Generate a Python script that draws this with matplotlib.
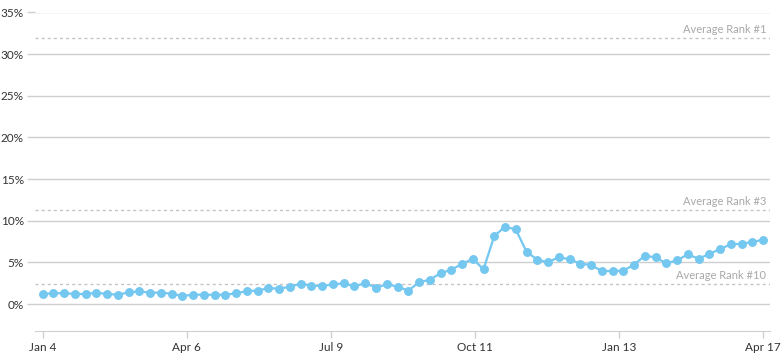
import numpy as np
import matplotlib.pyplot as plt

plt.rcParams['font.family'] = ['Lato', 'DejaVu Sans']

# weekly share (%), Jan 4 -> Apr 17
share = [1.2, 1.28, 1.32, 1.2, 1.2, 1.36, 1.2, 1.12, 1.4, 1.52,
         1.36, 1.36, 1.24, 0.96, 1.12, 1.12, 1.1, 1.12, 1.28, 1.56,
         1.6, 1.92, 1.84, 2.08, 2.44, 2.2, 2.16, 2.36, 2.48, 2.12,
         2.52, 1.96, 2.36, 2.1, 1.6, 2.6, 2.92, 3.68, 4.12, 4.8,
         5.44, 4.16, 8.16, 9.28, 8.96, 6.28, 5.32, 5.0, 5.64, 5.36,
         4.86, 4.68, 3.96, 3.96, 4.0, 4.72, 5.8, 5.6, 4.88, 5.24,
         5.96, 5.44, 6.0, 6.6, 7.16, 7.24, 7.44, 7.72]
tick_labels = ['Jan 4', 'Apr 6', 'Jul 9', 'Oct 11', 'Jan 13', 'Apr 17']
ref_names = ['Average Rank #1', 'Average Rank #3', 'Average Rank #10']
ref_values = [31.9, 11.3, 2.4]
y_ticks = [0, 5, 10, 15, 20, 25, 30, 35]

x = np.arange(len(share))

fig = plt.figure(figsize=(7.83, 3.58), dpi=100)
ax = fig.add_axes([35 / 783, 27 / 358, 735 / 783, 318.5 / 358])

# reference lines with labels
for name, val in zip(ref_names, ref_values):
    ax.axhline(val, color='#c4c4c4', lw=1, ls=(0, (2.2, 2.2)), zorder=1)
    ax.text(len(share) - 1 + 0.3, val + 0.35, name, ha='right', va='bottom',
            fontsize=8, color='#a8a8a8')

ax.plot(x, share, color='#74c7ef', lw=1.6, marker='o', markersize=5.4, zorder=3)

ax.set_xlim(-0.72, 67.65)
ax.set_ylim(-3.24, 35)

ax.set_yticks(y_ticks)
ax.set_yticklabels([f'{v}%' for v in y_ticks])
ax.set_xticks(np.linspace(0, len(share) - 1, len(tick_labels)))
ax.set_xticklabels(tick_labels)

ax.grid(axis='y', color='#cdd0d0', lw=1)
ax.set_axisbelow(True)
for side in ['top', 'right', 'left']:
    ax.spines[side].set_visible(False)
ax.spines['bottom'].set_color('#cdd0d0')
ax.tick_params(axis='y', length=6, color='#cdd0d0', width=1, labelsize=8.5,
               labelcolor='#333333', pad=2)
ax.tick_params(axis='x', length=5, color='#cdd0d0', width=1, labelsize=8.5,
               labelcolor='#333333', pad=3)

fig.savefig('out.png', dpi=100)
